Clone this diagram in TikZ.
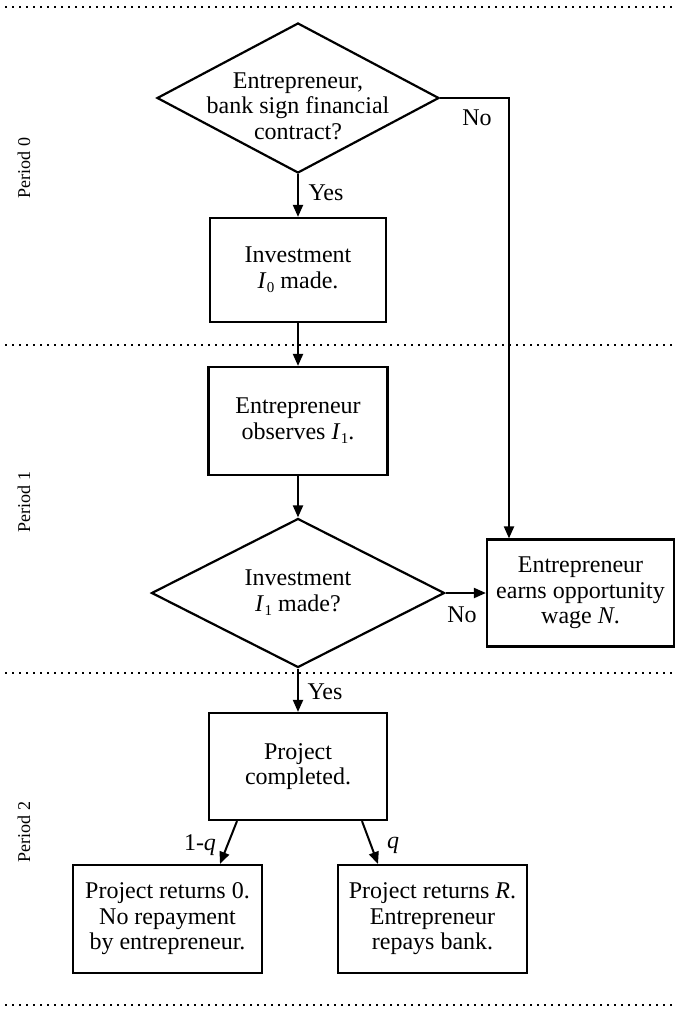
\documentclass[tikz,border=0pt]{standalone}
\usepackage{fontspec}
\setmainfont{Liberation Serif}
\usetikzlibrary{shapes.geometric,arrows.meta}
\newcommand\Isb[1]{\textit{I}\kern0.5pt\raisebox{-0.4ex}{\fontsize{15}{15}\selectfont #1}}
\begin{document}
\begin{tikzpicture}[x=1pt,y=-1pt,
  txt/.style={font=\fontsize{24}{25.5}\selectfont, align=center},
  box/.style={draw, line width=2.2pt, rectangle, inner sep=0pt, txt},
  dia/.style={draw, line width=2.2pt, diamond, inner sep=0pt},
  arr/.style={line width=2pt, -{Triangle[length=12pt,width=10pt]}},
  sep/.style={line width=1.8pt, dash pattern=on 1.8pt off 5.2pt},
  lab/.style={font=\fontsize{24}{25.5}\selectfont, inner sep=0pt},
  per/.style={font=\fontsize{18}{18}\selectfont, rotate=90, inner sep=0pt}]
\useasboundingbox (0,0) rectangle (679,1017);
% separators
\draw[sep] (5,7) -- (676,7);
\draw[sep] (5,345) -- (676,345);
\draw[sep] (5,673) -- (676,673);
\draw[sep] (5,1005) -- (676,1005);
% period labels
\node[per] (p0) at (24,168) {Period 0};
\node[per] (p1) at (24,502) {Period 1};
\node[per] (p2) at (24,832) {Period 2};
% nodes
\node[dia, minimum width=282pt, minimum height=150pt] (d1) at (298,98) {};
\node[txt] (d1t) at (298,106) {Entrepreneur,\\bank sign financial\\contract?};
\node[box, minimum width=176pt, minimum height=104pt] (b1) at (298,270) {Investment\\\Isb{0} made.};
\node[box, minimum width=179pt, minimum height=108pt] (b2) at (298,421) {Entrepreneur\\observes \Isb{1}.};
\node[dia, minimum width=293pt, minimum height=149pt] (d2) at (298,593) {};
\node[txt] (d2t) at (298,593) {Investment\\\Isb{1} made?};
\node[box, minimum width=187pt, minimum height=107pt] (rb) at (580.5,593) {Entrepreneur\\earns opportunity\\wage \textit{N}.};
\node[box, minimum width=178pt, minimum height=107pt] (b3) at (298,766.5) {Project\\completed.};
\node[box, minimum width=189pt, minimum height=108pt] (b4) at (167.5,919) {Project returns 0.\\No repayment\\by entrepreneur.};
\node[box, minimum width=189pt, minimum height=108pt] (b5) at (432.5,919) {Project returns \textit{R}.\\Entrepreneur\\repays bank.};
% labels
\node[lab] (y1) at (326,193) {Yes};
\node[lab] (n1) at (477,118) {No};
\node[lab] (n2) at (462,615) {No};
\node[lab] (y2) at (325,692) {Yes};
\node[lab] (lq) at (200,845) {1-\textit{q}};
\node[lab] (rq) at (393,845) {\textit{q}};
% connectors
\coordinate (k1) at (509,98);
\draw[arr] (d1.south) -- (b1.north);
\draw[arr] (d1.east) -- (k1) -- (k1 |- rb.north);
\draw[arr] (b1.south) -- (b2.north);
\draw[arr] (b2.south) -- (d2.north);
\draw[arr] (d2.east) -- (rb.west);
\draw[arr] (d2.south) -- (b3.north);
\draw[arr] ([xshift=-61pt]b3.south) -- ([xshift=52.5pt]b4.north);
\draw[arr] ([xshift=64pt]b3.south) -- ([xshift=-54.5pt]b5.north);
\end{tikzpicture}
\end{document}
